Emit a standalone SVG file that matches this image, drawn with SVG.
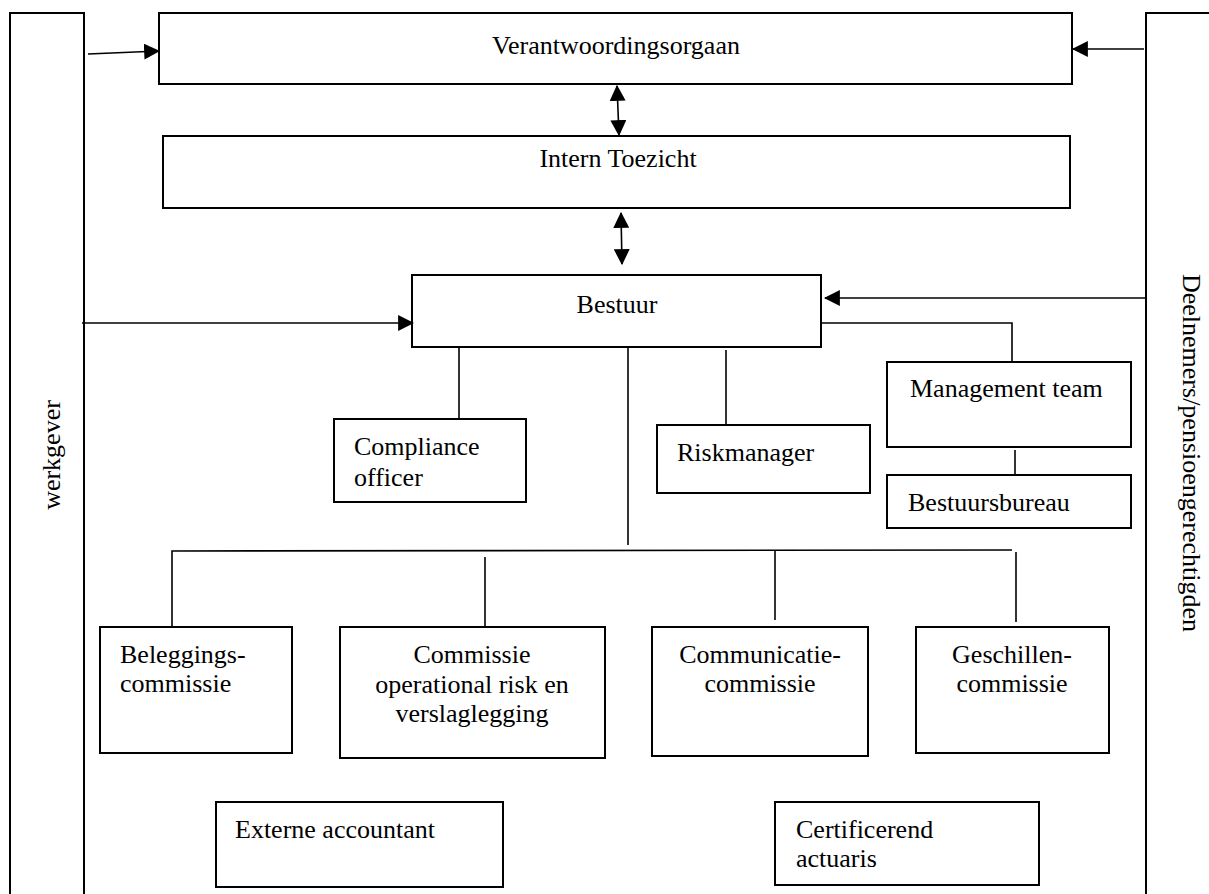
<svg xmlns="http://www.w3.org/2000/svg" width="1209" height="894" viewBox="0 0 1209 894">
<style>
.box{fill:#fff;stroke:#000;stroke-width:2}
.t{font-family:"Liberation Serif","Times New Roman","DejaVu Serif",serif;font-size:26px;fill:#000}
.c{text-anchor:middle}
.ln{fill:none;stroke:#000;stroke-width:1.6}
.ar{fill:none;stroke:#000;stroke-width:1.6;marker-end:url(#ah)}
.dar{fill:none;stroke:#000;stroke-width:1.6;marker-end:url(#ah);marker-start:url(#ah)}
</style>
<defs>
<marker id="ah" markerUnits="userSpaceOnUse" markerWidth="16" markerHeight="16" viewBox="0 0 14 14" refX="13" refY="7" orient="auto-start-reverse">
<path d="M0,0 L14,7 L0,14 Z" fill="#000"/>
</marker>
</defs>
<rect width="1209" height="894" fill="#fff"/>
<g id="werkgever">
<rect class="box" x="10" y="13" width="74" height="900"/>
<text class="t c" transform="translate(60,455) rotate(-90)">werkgever</text>
</g>
<g id="deelnemers">
<rect class="box" x="1146" y="13" width="100" height="900"/>
<text class="t c" transform="translate(1183,453) rotate(90)">Deelnemers/pensioengerechtigden</text>
</g>
<g id="verantwoordingsorgaan">
<rect class="box" x="159" y="13" width="913" height="71"/>
<text class="t c" x="616" y="54">Verantwoordingsorgaan</text>
</g>
<g id="intern-toezicht">
<rect class="box" x="163" y="136" width="907" height="72"/>
<text class="t c" x="618" y="167">Intern Toezicht</text>
</g>
<g id="bestuur">
<rect class="box" x="412" y="275" width="409" height="72"/>
<text class="t c" x="617" y="313">Bestuur</text>
</g>
<g id="management-team">
<rect class="box" x="887" y="362" width="244" height="85"/>
<text class="t" x="910" y="397">Management team</text>
</g>
<g id="bestuursbureau">
<rect class="box" x="887" y="475" width="244" height="53"/>
<text class="t" x="908" y="511">Bestuursbureau</text>
</g>
<g id="compliance-officer">
<rect class="box" x="334" y="419" width="192" height="83"/>
<text class="t" x="354" y="455">Compliance</text>
<text class="t" x="354" y="486">officer</text>
</g>
<g id="riskmanager">
<rect class="box" x="657" y="425" width="213" height="68"/>
<text class="t" x="677" y="461">Riskmanager</text>
</g>
<g id="beleggingscommissie">
<rect class="box" x="100" y="627" width="192" height="126"/>
<text class="t" x="120" y="663">Beleggings-</text>
<text class="t" x="120" y="692">commissie</text>
</g>
<g id="commissie-operational-risk">
<rect class="box" x="340" y="627" width="265" height="131"/>
<text class="t c" x="472" y="663">Commissie</text>
<text class="t c" x="472" y="693">operational risk en</text>
<text class="t c" x="472" y="722">verslaglegging</text>
</g>
<g id="communicatiecommissie">
<rect class="box" x="652" y="627" width="216" height="129"/>
<text class="t c" x="760" y="663">Communicatie-</text>
<text class="t c" x="760" y="692">commissie</text>
</g>
<g id="geschillencommissie">
<rect class="box" x="916" y="627" width="193" height="126"/>
<text class="t c" x="1012" y="663">Geschillen-</text>
<text class="t c" x="1012" y="692">commissie</text>
</g>
<g id="externe-accountant">
<rect class="box" x="216" y="802" width="287" height="85"/>
<text class="t" x="235" y="838">Externe accountant</text>
</g>
<g id="certificerend-actuaris">
<rect class="box" x="775" y="802" width="264" height="83"/>
<text class="t" x="796" y="838">Certificerend</text>
<text class="t" x="796" y="867">actuaris</text>
</g>
<g id="connectors">
<path class="ar" d="M88,54 L159,51"/>
<path class="ar" d="M1144,49 L1073,49"/>
<path class="dar" d="M617,86 L619,135"/>
<path class="dar" d="M621,213 L622,264"/>
<path class="ar" d="M82,323 L413,323"/>
<path class="ar" d="M1147,298 L825,298"/>
<path class="ln" d="M821,323 L1012,323 L1012,361"/>
<path class="ln" d="M1015,450 L1015,475"/>
<path class="ln" d="M459,347 L459,419"/>
<path class="ln" d="M726,350 L726,424"/>
<path class="ln" d="M628,347 L628,545"/>
<path class="ln" d="M172,627 L172,551 L1012,550"/>
<path class="ln" d="M485,557 L485,627"/>
<path class="ln" d="M775,550 L775,620"/>
<path class="ln" d="M1016,552 L1016,622"/>
</g>
</svg>
